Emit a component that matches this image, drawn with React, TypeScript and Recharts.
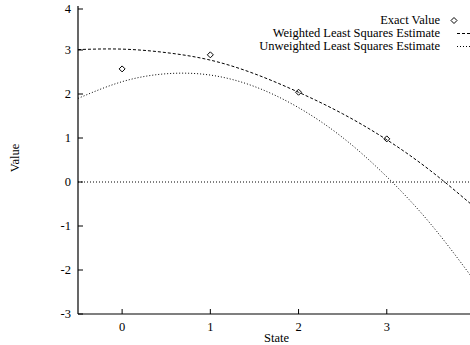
import { ComposedChart, Line, Scatter, XAxis, YAxis, ReferenceLine, Legend } from 'recharts';

const FONT = '"Liberation Serif", "Times New Roman", serif';

// exact values at each state
const states = [0, 1, 2, 3];
const exactValues = [2.57, 2.89, 2.04, 0.98];

// both fitted curves at half steps
const curveX = [-0.5, 0, 0.5, 1, 1.5, 2, 2.5, 3, 3.5, 4];
const weightedEstimate = [3.01, 3.02, 2.94, 2.77, 2.46, 2.04, 1.55, 0.96, 0.25, -0.58];
const unweightedEstimate = [1.9, 2.28, 2.46, 2.43, 2.17, 1.69, 1.01, 0.12, -0.96, -2.26];

// the right end (x = 4) is cropped off in the picture
const xTicks = [0, 1, 2, 3];
const yTicks = [-3, -2, -1, 0, 1, 2, 3, 4];
const legendLabels = ['Exact Value', 'Weighted Least Squares Estimate', 'Unweighted Least Squares Estimate'];

const curveData = curveX.map((x, i) => ({ x, weighted: weightedEstimate[i], unweighted: unweightedEstimate[i] }));
const pointData = states.map((x, i) => ({ x, value: exactValues[i] }));

const Diamond = ({ cx, cy }: any) => (
  <path d={`M${cx},${cy - 3}L${cx + 3},${cy}L${cx},${cy + 3}L${cx - 3},${cy}Z`} fill="none" stroke="#000" strokeWidth={1} />
);

const YTick = ({ x, y, payload }: any) => (
  <g>
    <line x1={x} x2={x + 5} y1={y} y2={y} stroke="#000" />
    <text x={x - 7} y={y + 4} textAnchor="end" fontSize={12.5} fontFamily={FONT} fill="#000">
      {payload.value}
    </text>
  </g>
);

const XTick = ({ x, y, payload }: any) => (
  <g>
    <line x1={x} x2={x} y1={y} y2={y - 5} stroke="#000" />
    <text x={x} y={y + 17} textAnchor="middle" fontSize={12.5} fontFamily={FONT} fill="#000">
      {payload.value}
    </text>
  </g>
);

const TopTick = ({ x, y }: any) => <line x1={x} x2={x} y1={y} y2={y + 5} stroke="#000" />;

const ValueLabel = ({ viewBox }: any) => {
  const lx = viewBox.x + 19;
  const ly = viewBox.y + viewBox.height / 2 - 2;
  return (
    <text x={lx} y={ly} transform={`rotate(-90 ${lx} ${ly})`} textAnchor="middle" fontSize={12.5} fontFamily={FONT} fill="#000">
      Value
    </text>
  );
};

const LegendBox = () => (
  <div style={{ fontFamily: FONT, fontSize: 12.5, color: '#000', whiteSpace: 'nowrap' }}>
    {legendLabels.map((label, i) => (
      <div key={label} style={{ display: 'flex', justifyContent: 'flex-end', alignItems: 'center', height: 13 }}>
        <span style={{ lineHeight: '13px' }}>{label}</span>
        <svg width={32} height={13} style={{ marginLeft: 3, flexShrink: 0 }}>
          {i === 0 ? (
            <path d="M11,3.5L14,6.5L11,9.5L8,6.5Z" fill="none" stroke="#000" />
          ) : (
            <line x1={14} x2={32} y1={6.5} y2={6.5} stroke="#000" strokeDasharray={i === 1 ? '3 2' : '1 2'} />
          )}
        </svg>
      </div>
    ))}
  </div>
);

export default function App() {
  return (
    <div style={{ position: 'absolute', left: 0, top: 0, width: 470, height: 345, overflow: 'hidden', background: '#fff' }}>
      <ComposedChart width={485} height={345} data={curveData} margin={{ top: 6, right: 10, bottom: 0, left: 0 }}>
        <XAxis
          dataKey="x"
          type="number"
          domain={[-0.5, 4]}
          ticks={xTicks}
          tickSize={0}
          tickMargin={0}
          tickLine={false}
          tick={<XTick />}
          height={31}
          axisLine={{ stroke: '#000', strokeWidth: 1.2 }}
          label={{ value: 'State', position: 'bottom', offset: -12, fontSize: 12.5, fontFamily: FONT, fill: '#000' }}
        />
        <XAxis
          xAxisId="top"
          orientation="top"
          type="number"
          domain={[-0.5, 4]}
          ticks={xTicks}
          tickSize={0}
          tickMargin={0}
          tickLine={false}
          tick={<TopTick />}
          height={0}
          axisLine={{ stroke: '#000', strokeWidth: 1.2 }}
        />
        <YAxis
          type="number"
          domain={[-3, 4]}
          ticks={yTicks}
          width={78}
          tickSize={0}
          tickMargin={0}
          tickLine={false}
          tick={<YTick />}
          axisLine={{ stroke: '#000', strokeWidth: 1.2 }}
          label={<ValueLabel />}
        />
        <ReferenceLine y={0} stroke="#000" strokeDasharray="1 2" strokeWidth={1} />
        <Legend
          layout="vertical"
          align="center"
          verticalAlign="middle"
          content={<LegendBox />}
          wrapperStyle={{ top: 14, left: 220, width: 255 }}
        />
        <Line
          dataKey="weighted"
          type="natural"
          stroke="#000"
          strokeWidth={1}
          strokeDasharray="3 2"
          dot={false}
          activeDot={false}
          isAnimationActive={false}
        />
        <Line
          dataKey="unweighted"
          type="natural"
          stroke="#000"
          strokeWidth={1}
          strokeDasharray="1 2"
          dot={false}
          activeDot={false}
          isAnimationActive={false}
        />
        <Scatter data={pointData} dataKey="value" shape={<Diamond />} isAnimationActive={false} />
      </ComposedChart>
    </div>
  );
}
